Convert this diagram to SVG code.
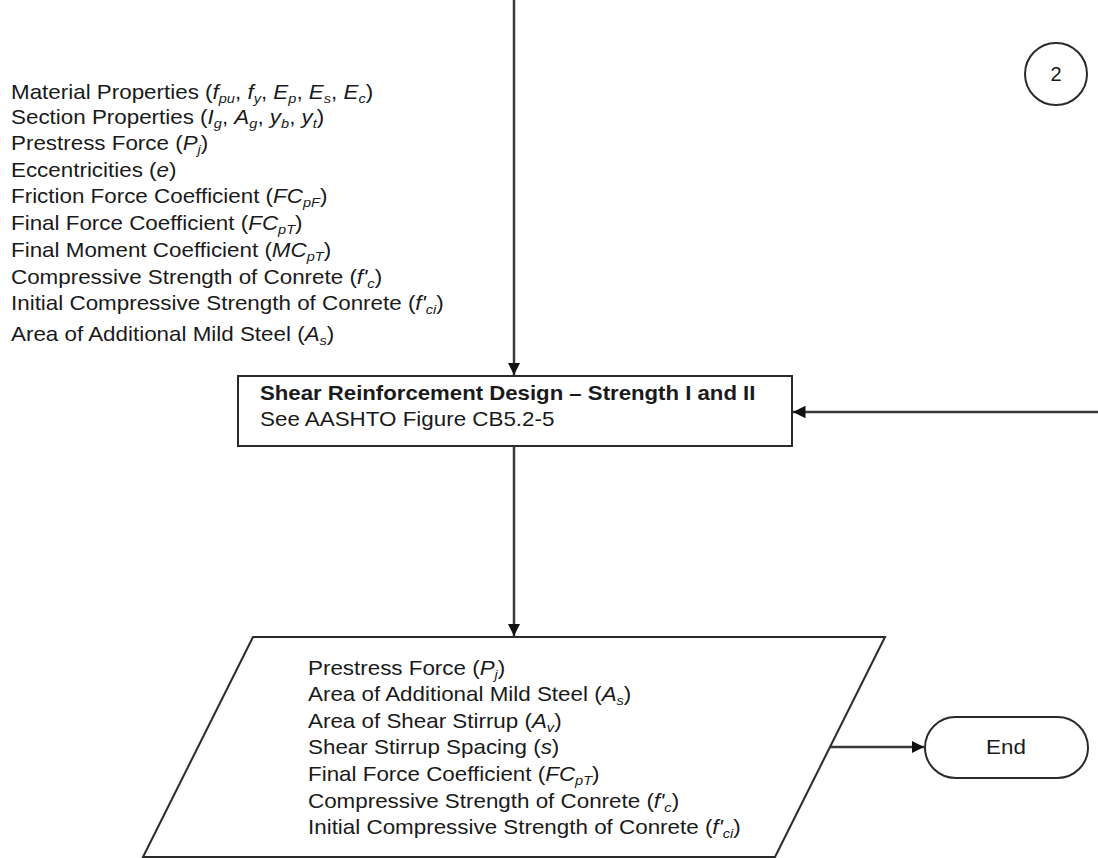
<svg xmlns="http://www.w3.org/2000/svg" width="1098" height="858" viewBox="0 0 1098 858">
<style>
text{font-family:"Liberation Sans",Arial,sans-serif;font-size:20px;fill:#1a1a1a}
.b{font-weight:bold}
.i{font-style:italic}
.s{font-size:13px;font-style:italic}
.shape{fill:#fff;stroke:#2a2a2a;stroke-width:2}
.conn{fill:none;stroke:#3a3a3a;stroke-width:2.5}
</style>
<defs>
<marker id="arr" viewBox="0 0 10 10" refX="10" refY="5" markerWidth="5" markerHeight="5" markerUnits="strokeWidth" orient="auto">
<path d="M0,0 L10,5 L0,10 z" fill="#111"/>
</marker>
</defs>
<g id="connectors">
<line class="conn" x1="514" y1="0" x2="514" y2="375" marker-end="url(#arr)"/>
<line class="conn" x1="1098" y1="412" x2="793" y2="412" marker-end="url(#arr)"/>
<line class="conn" x1="514" y1="446" x2="514" y2="636" marker-end="url(#arr)"/>
<line class="conn" x1="830" y1="747" x2="924" y2="747" marker-end="url(#arr)"/>
</g>
<g id="connector-label-2">
<circle cx="1056" cy="74" r="31" fill="#fff" stroke="#2a2a2a" stroke-width="2"/>
<text x="1056" y="81" text-anchor="middle">2</text>
</g>
<g id="inputs">
<text transform="translate(11 99) scale(1.12 1)">Material Properties (<tspan class="i">f</tspan><tspan class="s" dy="4">pu</tspan><tspan dy="-4">, </tspan><tspan class="i">f</tspan><tspan class="s" dy="4">y</tspan><tspan dy="-4">, </tspan><tspan class="i">E</tspan><tspan class="s" dy="4">p</tspan><tspan dy="-4">, </tspan><tspan class="i">E</tspan><tspan class="s" dy="4">s</tspan><tspan dy="-4">, </tspan><tspan class="i">E</tspan><tspan class="s" dy="4">c</tspan><tspan dy="-4">)</tspan></text>
<text transform="translate(11 124) scale(1.12 1)">Section Properties (<tspan class="i">I</tspan><tspan class="s" dy="4">g</tspan><tspan dy="-4">, </tspan><tspan class="i">A</tspan><tspan class="s" dy="4">g</tspan><tspan dy="-4">, </tspan><tspan class="i">y</tspan><tspan class="s" dy="4">b</tspan><tspan dy="-4">, </tspan><tspan class="i">y</tspan><tspan class="s" dy="4">t</tspan><tspan dy="-4">)</tspan></text>
<text transform="translate(11 150) scale(1.12 1)">Prestress Force (<tspan class="i">P</tspan><tspan class="s" dy="4">j</tspan><tspan dy="-4">)</tspan></text>
<text transform="translate(11 177) scale(1.12 1)">Eccentricities (<tspan class="i">e</tspan>)</text>
<text transform="translate(11 203) scale(1.12 1)">Friction Force Coefficient (<tspan class="i">FC</tspan><tspan class="s" dy="4">pF</tspan><tspan dy="-4">)</tspan></text>
<text transform="translate(11 230) scale(1.12 1)">Final Force Coefficient (<tspan class="i">FC</tspan><tspan class="s" dy="4">pT</tspan><tspan dy="-4">)</tspan></text>
<text transform="translate(11 257) scale(1.12 1)">Final Moment Coefficient (<tspan class="i">MC</tspan><tspan class="s" dy="4">pT</tspan><tspan dy="-4">)</tspan></text>
<text transform="translate(11 284) scale(1.12 1)">Compressive Strength of Conrete (<tspan class="i">f'</tspan><tspan class="s" dy="4">c</tspan><tspan dy="-4">)</tspan></text>
<text transform="translate(11 310) scale(1.12 1)">Initial Compressive Strength of Conrete (<tspan class="i">f'</tspan><tspan class="s" dy="4">ci</tspan><tspan dy="-4">)</tspan></text>
<text transform="translate(11 341) scale(1.12 1)">Area of Additional Mild Steel (<tspan class="i">A</tspan><tspan class="s" dy="4">s</tspan><tspan dy="-4">)</tspan></text>
</g>
<g id="shear-design">
<rect class="shape" x="238" y="376" width="554" height="70"/>
<text class="b" transform="translate(260 400) scale(1.11 1)">Shear Reinforcement Design – Strength I and II</text>
<text transform="translate(260 426) scale(1.12 1)">See AASHTO Figure CB5.2-5</text>
</g>
<g id="outputs">
<polygon class="shape" points="253,637 885,637 775,857 143,857"/>
<text transform="translate(308 675) scale(1.12 1)">Prestress Force (<tspan class="i">P</tspan><tspan class="s" dy="4">j</tspan><tspan dy="-4">)</tspan></text>
<text transform="translate(308 701) scale(1.12 1)">Area of Additional Mild Steel (<tspan class="i">A</tspan><tspan class="s" dy="4">s</tspan><tspan dy="-4">)</tspan></text>
<text transform="translate(308 728) scale(1.12 1)">Area of Shear Stirrup (<tspan class="i">A</tspan><tspan class="s" dy="4">v</tspan><tspan dy="-4">)</tspan></text>
<text transform="translate(308 754) scale(1.12 1)">Shear Stirrup Spacing (<tspan class="i">s</tspan>)</text>
<text transform="translate(308 781) scale(1.12 1)">Final Force Coefficient (<tspan class="i">FC</tspan><tspan class="s" dy="4">pT</tspan><tspan dy="-4">)</tspan></text>
<text transform="translate(308 808) scale(1.12 1)">Compressive Strength of Conrete (<tspan class="i">f'</tspan><tspan class="s" dy="4">c</tspan><tspan dy="-4">)</tspan></text>
<text transform="translate(308 834) scale(1.12 1)">Initial Compressive Strength of Conrete (<tspan class="i">f'</tspan><tspan class="s" dy="4">ci</tspan><tspan dy="-4">)</tspan></text>
</g>
<g id="end">
<rect class="shape" x="925" y="717" width="163" height="61" rx="30.5" ry="30.5"/>
<text text-anchor="middle" transform="translate(1006 754) scale(1.12 1)">End</text>
</g>
</svg>
